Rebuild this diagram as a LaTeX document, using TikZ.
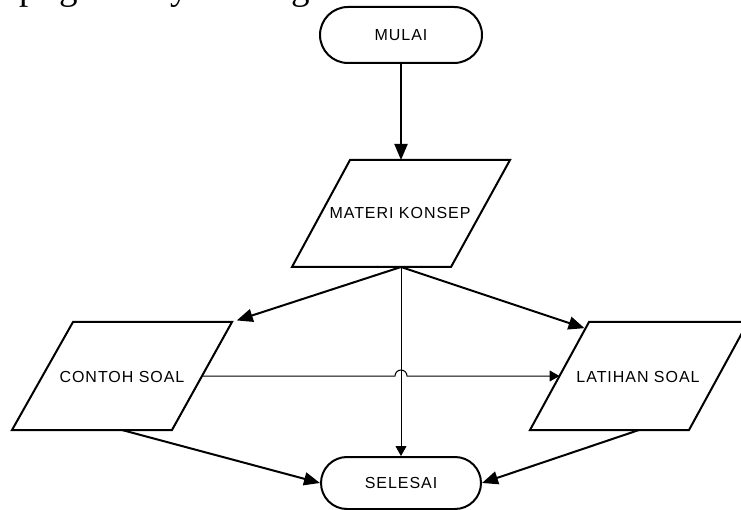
\documentclass[tikz,border=0pt]{standalone}
\usepackage{fontspec}
\usetikzlibrary{arrows.meta,calc}
\newfontfamily\lblfont[LetterSpace=6]{Liberation Sans}
\newfontfamily\bodyfont{Liberation Serif}
\begin{document}
\begin{tikzpicture}[x=1pt,y=-1pt,
  lbl/.style={font=\lblfont\fontsize{16}{18}\selectfont, inner sep=0pt},
  term/.style={draw, line width=2pt, lbl},
  io/.style={draw, line width=2pt, line join=miter},
  thick flow/.style={line width=2pt, -{Triangle[length=16pt,width=13pt]}},
  thin flow/.style={line width=1pt, -{Triangle[length=10pt,width=11pt]}},
  bodytext/.style={anchor=base west, inner sep=0pt, font=\bodyfont\fontsize{37}{40}\selectfont},
]
\useasboundingbox (0,0) rectangle (741,510);

% descenders of the text line above the chart (baseline on the top edge)
\foreach \ch/\xx [count=\i] in {p/19, g/59, y/170, g/291}
  \node[bodytext] (w\i) at (\xx,0) {\ch};

% start and end terminals
\node[term, minimum width=162pt, minimum height=56pt, rounded corners=28pt] (mulai) at (401,35) {MULAI};
\node[term, minimum width=160pt, minimum height=52pt, rounded corners=26pt] (selesai) at (401,483) {SELESAI};

% MATERI KONSEP
\coordinate (mk-tl) at (350,160); \coordinate (mk-tr) at (510,160);
\coordinate (mk-br) at (451,267); \coordinate (mk-bl) at (292,267);
\coordinate (mk-n) at (401,160);  \coordinate (mk-s) at (401,267);
\draw[io] (mk-tl) -- (mk-tr) -- (mk-br) -- (mk-bl) -- cycle;
\node[lbl] (mk) at (400,212.5) {MATERI KONSEP};

% CONTOH SOAL
\coordinate (cs-tl) at (73,322);  \coordinate (cs-tr) at (232,322);
\coordinate (cs-br) at (172,430); \coordinate (cs-bl) at (12,430);
\coordinate (cs-s) at (122,430);
\coordinate (cs-e) at ($(cs-tr)!0.5!(cs-br)$);
\draw[io] (cs-tl) -- (cs-tr) -- (cs-br) -- (cs-bl) -- cycle;
\node[lbl] (cs) at (122,376.5) {CONTOH SOAL};

% LATIHAN SOAL
\coordinate (ls-tl) at (589,322); \coordinate (ls-tr) at (748,322);
\coordinate (ls-br) at (689,430); \coordinate (ls-bl) at (530,430);
\coordinate (ls-s) at (639,430);
\coordinate (ls-w) at ($(ls-tl)!0.5!(ls-bl)$);
\coordinate (ls-in) at ($(ls-tl)!0.06!(ls-bl)$);
\draw[io] (ls-tl) -- (ls-tr) -- (ls-br) -- (ls-bl) -- cycle;
\node[lbl] (ls) at (638,377) {LATIHAN SOAL};

% connectors
\draw[thick flow] (mulai.south) -- (mk-n);
\draw[thick flow, shorten >=5pt] (mk-s) -- (cs-tr);
\draw[thick flow, shorten >=1pt] (mk-s) -- (ls-in);
\draw[thin flow] (mk-s) -- (selesai.north);
\draw[thin flow] (cs-e) -- ([xshift=-6pt]cs-e -| mk-s)
  arc[start angle=180, end angle=0, radius=6pt] -- (ls-w);
\draw[thick flow] (cs-s) -- (selesai.west);
\draw[thick flow] (ls-s) -- (selesai.east);
\end{tikzpicture}
\end{document}
